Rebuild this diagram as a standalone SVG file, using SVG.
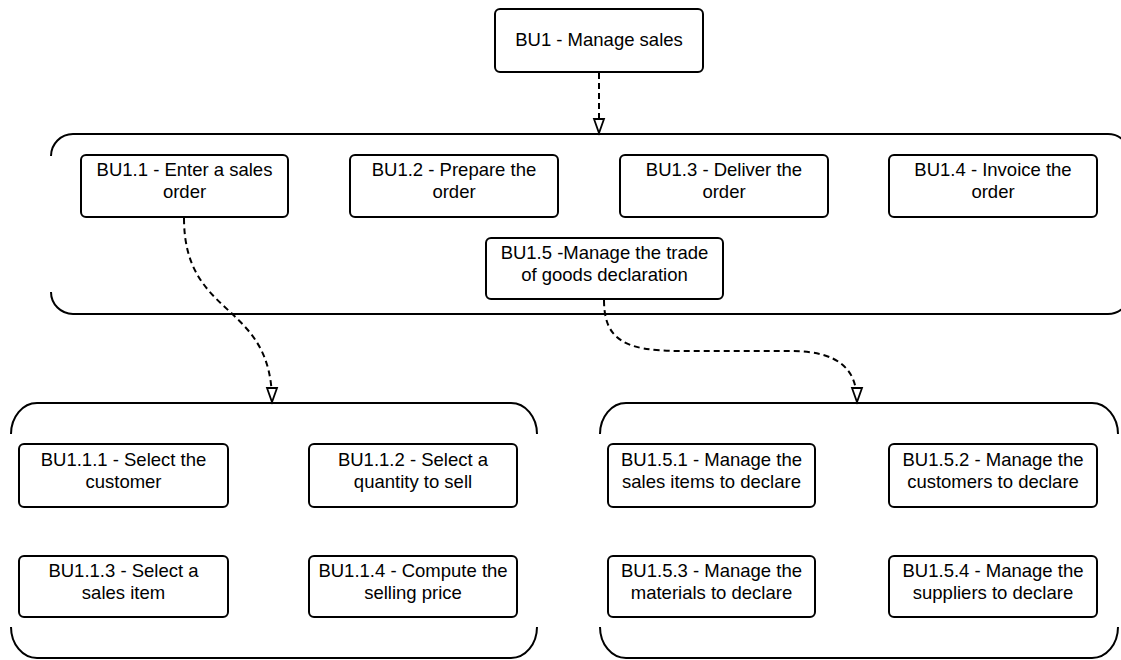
<svg xmlns="http://www.w3.org/2000/svg" width="1121" height="660" viewBox="0 0 1121 660">
<style>
.box{fill:#fff;stroke:#000;stroke-width:2}
.cont{fill:none;stroke:#000;stroke-width:2}
.t{font-family:"Liberation Sans",Arial,sans-serif;font-size:18.5px;fill:#000;text-anchor:middle}
.con{fill:none;stroke:#000;stroke-width:2;stroke-dasharray:6 4}
</style>
<defs>
<marker id="arr" viewBox="0 0 14 10" refX="14" refY="5" markerWidth="14" markerHeight="10" markerUnits="userSpaceOnUse" orient="auto" overflow="visible">
<path d="M0,0 L14,5 L0,10 Z" fill="#fff" stroke="#000" stroke-width="1.8" stroke-dasharray="none"/>
</marker>
</defs>
<rect width="1121" height="660" fill="#fff"/>

<g id="container-bu1">
<path class="cont" d="M51,156 A22,22 0 0 1 73,134 L1108,134 A22,22 0 0 1 1130,156"/>
<path class="cont" d="M51,292 A22,22 0 0 0 73,314 L1108,314 A22,22 0 0 0 1130,292"/>
</g>
<g id="container-bu1-1">
<path class="cont" d="M11,434 A26,31 0 0 1 37,403 L511,403 A26,31 0 0 1 537,434"/>
<path class="cont" d="M11,627 A26,31 0 0 0 37,658 L511,658 A26,31 0 0 0 537,627"/>
</g>
<g id="container-bu1-5">
<path class="cont" d="M600,434 A26,31 0 0 1 626,403 L1092,403 A26,31 0 0 1 1118,434"/>
<path class="cont" d="M600,627 A26,31 0 0 0 626,658 L1092,658 A26,31 0 0 0 1118,627"/>
</g>

<g id="connectors">
<path class="con" d="M599,73 L599,133" marker-end="url(#arr)"/>
<path class="con" d="M184,218 C184,320 272,300 272,402" marker-end="url(#arr)"/>
<path class="con" d="M604,300 C604,340 625,351 680,351 L790,351 C840,351 857,370 857,402" marker-end="url(#arr)"/>
</g>

<g id="bu1">
<rect class="box" x="495" y="9" width="208" height="63" rx="5"/>
<text class="t" x="599" y="46">BU1 - Manage sales</text>
</g>
<g id="bu1-1">
<rect class="box" x="81" y="155" width="207" height="62" rx="5"/>
<text class="t" x="184.5" y="176">BU1.1 - Enter a sales</text>
<text class="t" x="184.5" y="198">order</text>
</g>
<g id="bu1-2">
<rect class="box" x="350" y="155" width="208" height="62" rx="5"/>
<text class="t" x="454" y="176">BU1.2 - Prepare the</text>
<text class="t" x="454" y="198">order</text>
</g>
<g id="bu1-3">
<rect class="box" x="620" y="155" width="208" height="62" rx="5"/>
<text class="t" x="724" y="176">BU1.3 - Deliver the</text>
<text class="t" x="724" y="198">order</text>
</g>
<g id="bu1-4">
<rect class="box" x="889" y="155" width="208" height="62" rx="5"/>
<text class="t" x="993" y="176">BU1.4 - Invoice the</text>
<text class="t" x="993" y="198">order</text>
</g>
<g id="bu1-5">
<rect class="box" x="486" y="238" width="237" height="61" rx="5"/>
<text class="t" x="604.5" y="259">BU1.5 -Manage the trade</text>
<text class="t" x="604.5" y="281">of goods declaration</text>
</g>

<g id="bu1-1-1">
<rect class="box" x="19" y="444" width="209" height="63" rx="5"/>
<text class="t" x="123.5" y="465.5">BU1.1.1 - Select the</text>
<text class="t" x="123.5" y="487.5">customer</text>
</g>
<g id="bu1-1-2">
<rect class="box" x="309" y="444" width="208" height="63" rx="5"/>
<text class="t" x="413" y="465.5">BU1.1.2 - Select a</text>
<text class="t" x="413" y="487.5">quantity to sell</text>
</g>
<g id="bu1-1-3">
<rect class="box" x="19" y="556" width="209" height="61" rx="5"/>
<text class="t" x="123.5" y="576.5">BU1.1.3 - Select a</text>
<text class="t" x="123.5" y="598.5">sales item</text>
</g>
<g id="bu1-1-4">
<rect class="box" x="309" y="556" width="208" height="61" rx="5"/>
<text class="t" x="413" y="576.5">BU1.1.4 - Compute the</text>
<text class="t" x="413" y="598.5">selling price</text>
</g>

<g id="bu1-5-1">
<rect class="box" x="608" y="444" width="207" height="63" rx="5"/>
<text class="t" x="711.5" y="465.5">BU1.5.1 - Manage the</text>
<text class="t" x="711.5" y="487.5">sales items to declare</text>
</g>
<g id="bu1-5-2">
<rect class="box" x="889" y="444" width="208" height="63" rx="5"/>
<text class="t" x="993" y="465.5">BU1.5.2 - Manage the</text>
<text class="t" x="993" y="487.5">customers to declare</text>
</g>
<g id="bu1-5-3">
<rect class="box" x="608" y="556" width="207" height="61" rx="5"/>
<text class="t" x="711.5" y="576.5">BU1.5.3 - Manage the</text>
<text class="t" x="711.5" y="598.5">materials to declare</text>
</g>
<g id="bu1-5-4">
<rect class="box" x="889" y="556" width="208" height="61" rx="5"/>
<text class="t" x="993" y="576.5">BU1.5.4 - Manage the</text>
<text class="t" x="993" y="598.5">suppliers to declare</text>
</g>
</svg>
